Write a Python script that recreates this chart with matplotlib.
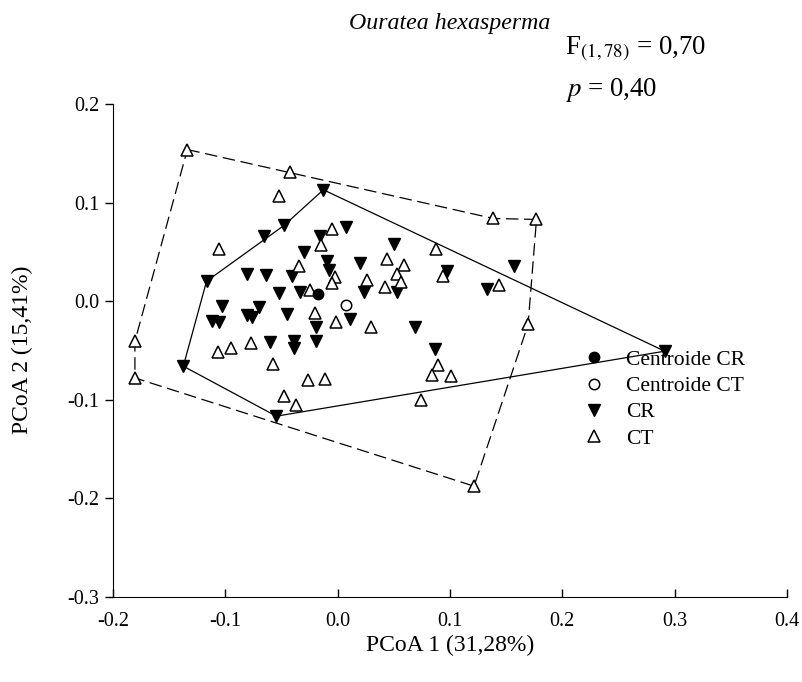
import matplotlib
matplotlib.use("Agg")
import matplotlib.pyplot as plt
import numpy as np

plt.rcParams['font.family'] = ['Liberation Serif', 'DejaVu Serif']
plt.rcParams['mathtext.fontset'] = 'stix'

# ---- data ----
cr_x = [-0.0127, -0.0478, -0.066, 0.0075, -0.0157, -0.030, -0.0098, -0.0077, -0.1167, -0.081,
        -0.0641, -0.041, -0.0523, -0.0336, -0.1027, -0.070, -0.081, -0.0448, -0.1116, -0.1057,
        -0.0196, 0.011, 0.157, 0.1327, 0.0975, 0.0502, 0.0196, 0.0234, 0.0525, 0.0686,
        -0.0196, -0.0603, -0.0389, -0.0389, -0.1374, -0.0546, 0.0864, 0.2912, -0.076]
cr_y = [0.113, 0.0768, 0.0666, 0.0750, 0.0666, 0.050, 0.0406, 0.032, 0.0203, 0.028,
        0.0264, 0.0254, 0.0084, 0.0091, -0.0044, -0.0061, -0.0145, -0.0128, -0.0203, -0.0213,
        -0.0264, -0.0176, 0.0355, 0.0125, 0.0311, 0.0581, 0.0389, 0.0091, 0.0091, -0.0264,
        -0.0399, -0.0413, -0.0399, -0.0474, -0.0659, -0.1166, -0.0484, -0.0507, -0.0165]

ct_x = [-0.1338, -0.0427, -0.052, -0.0047, -0.0151, -0.106, -0.0344, -0.0027, -0.0047, -0.0249,
        -0.0202, -0.0012, 0.1386, 0.0879, 0.1436, 0.1695, 0.0941, 0.0442, 0.059, 0.0258,
        0.0525, 0.0561, 0.0421, 0.030, -0.0775, -0.0953, -0.1062, -0.1805, -0.1805, -0.0573,
        -0.0264, -0.0113, -0.0478, -0.0374, 0.0893, 0.0843, 0.1006, 0.0745, 0.177, 0.1214]
ct_y = [0.1538, 0.131, 0.1065, 0.0737, 0.0565, 0.053, 0.0355, 0.0247, 0.0186, 0.0118,
        -0.0118, -0.0213, 0.0839, 0.0534, 0.0162, -0.0236, 0.026, 0.0433, 0.0372, 0.0213,
        0.028, 0.0196, 0.0145, -0.0264, -0.0423, -0.0474, -0.0517, -0.0406, -0.0778, -0.0636,
        -0.0804, -0.0784, -0.0957, -0.1048, -0.0642, -0.0744, -0.0761, -0.1004, 0.0829, -0.1876]

centroid_cr = (-0.0172, 0.0074)
centroid_ct = (0.0071, -0.0041)

# polygon outline vertex order (indices into the point lists)
cr_hull_idx = [0, 37, 35, 34, 8, 1]
ct_hull_idx = [0, 12, 38, 15, 39, 28, 27]

xticks = [-0.2, -0.1, 0.0, 0.1, 0.2, 0.3, 0.4]
yticks = [-0.3, -0.2, -0.1, 0.0, 0.1, 0.2]

# ---- figure ----
W, H = 803, 682
fig = plt.figure(figsize=(W / 100, H / 100), dpi=100)
ax = fig.add_axes([113 / W, 85 / H, 674 / W, 493 / H])

cr_x_a, cr_y_a = np.array(cr_x), np.array(cr_y)
ct_x_a, ct_y_a = np.array(ct_x), np.array(ct_y)

hx = list(cr_x_a[cr_hull_idx]) + [cr_x_a[cr_hull_idx[0]]]
hy = list(cr_y_a[cr_hull_idx]) + [cr_y_a[cr_hull_idx[0]]]
ax.plot(hx, hy, color='black', lw=0.9, zorder=1)

hx = list(ct_x_a[ct_hull_idx]) + [ct_x_a[ct_hull_idx[0]]]
hy = list(ct_y_a[ct_hull_idx]) + [ct_y_a[ct_hull_idx[0]]]
ax.plot(hx, hy, color='black', lw=0.9, dashes=(10, 4.5), zorder=1)

ax.plot(cr_x, cr_y, linestyle='none', marker='v', ms=8.5, mfc='black', mec='black', zorder=3, label='CR')
ax.plot(ct_x, ct_y, linestyle='none', marker='^', ms=8.5, mfc='white', mec='black', mew=1.1, zorder=3, label='CT')
ax.plot([centroid_cr[0]], [centroid_cr[1]], linestyle='none', marker='o', ms=7.5, mfc='black', mec='black', zorder=4, label='Centroide CR')
ax.plot([centroid_ct[0]], [centroid_ct[1]], linestyle='none', marker='o', ms=7.5, mfc='white', mec='black', mew=1.1, zorder=4, label='Centroide CT')

ax.set_xlim(-0.2, 0.4)
ax.set_ylim(-0.3, 0.2)
ax.set_xticks(xticks)
ax.set_yticks(yticks)
ax.set_xticklabels([f"{t:.1f}" for t in xticks])
ax.set_yticklabels([f"{t:.1f}" for t in yticks])
ax.spines['top'].set_visible(False)
ax.spines['right'].set_visible(False)
ax.tick_params(axis='x', direction='in', length=6, labelsize=14.5, pad=11, width=1)
ax.tick_params(axis='y', direction='out', length=6, labelsize=14.5, pad=4, width=1)

ax.set_xlabel('PCoA 1 (31,28%)', fontsize=17)
ax.set_ylabel('PCoA 2 (15,41%)', fontsize=17)
ax.xaxis.set_label_coords((450 - 113) / 674, (H - 645 - 85) / 493)
ax.yaxis.set_label_coords((22 - 113) / 674, (H - 350 - 85) / 493)
ax.xaxis.label.set_va('center')
ax.yaxis.label.set_va('center')

handles, labels = ax.get_legend_handles_labels()
order = [2, 3, 0, 1]
ax.legend([handles[i] for i in order], [labels[i] for i in order],
          loc='upper left', bbox_to_anchor=(0.665, 0.541), frameon=False,
          fontsize=15.5, handlelength=1.2, handletextpad=0.93, labelspacing=0.29)

fig.text(450 / W, 1 - 24 / H, 'Ouratea hexasperma', style='italic', fontsize=17.2,
         ha='center', va='center')
fig.text(565 / W, 1 - 49 / H, 'F$_{(1,78)}$ = 0,70', fontsize=19.4, ha='left', va='center')
fig.text(565 / W, 1 - 90 / H, '$p$ = 0,40', fontsize=19.4, ha='left', va='center')

fig.savefig('out.png', dpi=100)
